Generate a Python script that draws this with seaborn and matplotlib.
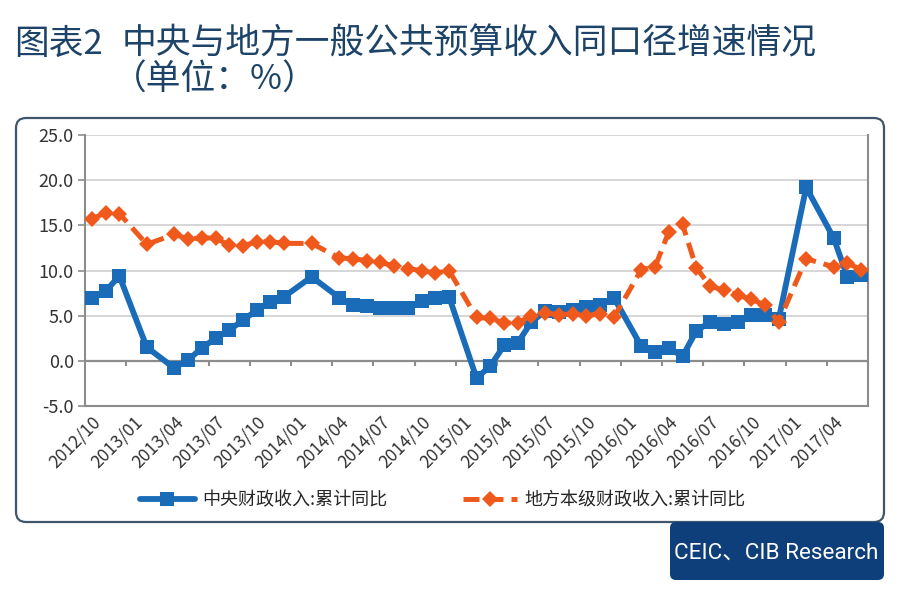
import numpy as np
import pandas as pd
import matplotlib
matplotlib.use("Agg")
import matplotlib.pyplot as plt
import seaborn as sns
from matplotlib.lines import Line2D
from matplotlib.patches import FancyBboxPatch
from matplotlib.transforms import IdentityTransform

# monthly categories 2012/10 .. 2017/06
months = [f"{y}/{m:02d}" for y in range(2012, 2018) for m in range(1, 13)]
months = months[months.index("2012/10"):months.index("2017/06") + 1]

nan = np.nan
central = [7.0, 7.7, 9.4, nan, 1.5, nan, -0.8, 0.1, 1.4, 2.5, 3.4, 4.5, 5.6, 6.5, 7.1,
           nan, 9.3, nan, 7.0, 6.2, 6.1, 5.9, 5.9, 5.9, 6.6, 7.0, 7.1,
           nan, -1.9, -0.6, 1.7, 2.0, 4.3, 5.5, 5.4, 5.6, 6.0, 6.2, 7.0,
           nan, 1.6, 1.0, 1.4, 0.5, 3.3, 4.3, 4.1, 4.3, 5.1, 5.1, 4.6,
           nan, 19.2, nan, 13.6, 9.3, 9.5]
local = [15.7, 16.4, 16.3, nan, 12.9, nan, 14.0, 13.5, 13.6, 13.6, 12.8, 12.7, 13.2, 13.2, 13.0,
         nan, 13.0, nan, 11.4, 11.3, 11.1, 10.9, 10.5, 10.2, 10.0, 9.7, 10.0,
         nan, 4.8, 4.7, 4.2, 4.2, 5.0, 5.3, 5.1, 5.2, 5.0, 5.2, 4.8,
         nan, 10.1, 10.4, 14.3, 15.1, 10.3, 8.3, 7.8, 7.3, 6.8, 6.2, 4.3,
         nan, 11.3, nan, 10.4, 10.8, 10.1]

series_names = ["中央财政收入:累计同比", "地方本级财政收入:累计同比"]
yticks = [-5, 0, 5, 10, 15, 20, 25]

BLUE = "#1a6cb8"
ORANGE = "#ef5a1c"
NAVY = "#1d4468"

sns.set_theme(style="white")
plt.rcParams["font.family"] = ["Noto Sans CJK SC", "DejaVu Sans"]
plt.rcParams["axes.unicode_minus"] = False

df = pd.DataFrame({"idx": np.arange(len(months)), "month": months,
                   "central": central, "local": local})

fig = plt.figure(figsize=(9, 5.91), dpi=100)
W, H = 900, 591
ax = fig.add_axes([85 / W, 1 - 406 / H, 783 / W, 271 / H])

d1 = df.dropna(subset=["central"])
d2 = df.dropna(subset=["local"])
sns.lineplot(data=d1, x="idx", y="central", ax=ax, color=BLUE, linewidth=4.2,
             marker="s", markersize=10.5, markeredgewidth=0, zorder=3)
sns.lineplot(data=d2, x="idx", y="local", ax=ax, color=ORANGE, linewidth=3.6,
             linestyle=(0, (3.2, 1.6)), marker="D", markersize=8,
             markeredgewidth=0, zorder=4)

ax.set_xlim(-0.5, len(months) - 0.5)
ax.set_ylim(-5, 25)
ax.set_yticks(yticks)
ax.set_yticklabels([f"{v:.1f}" for v in yticks], fontsize=13, color="#333333")
ax.set_xticks(df["idx"][::3])
ax.set_xticklabels(df["month"][::3], rotation=45, ha="right",
                   rotation_mode="anchor", fontsize=12.5, color="#333333")
ax.tick_params(axis="x", length=0, pad=5)
ax.tick_params(axis="y", length=5, color="#8c8c8c", width=1.2, left=True, pad=3)
ax.set_xlabel("")
ax.set_ylabel("")
ax.yaxis.grid(True, color="#d3d3d3", linewidth=1.3)
ax.xaxis.grid(False)
for s in ["left", "right", "bottom"]:
    ax.spines[s].set_color("#8c8c8c")
    ax.spines[s].set_linewidth(1.5)
ax.spines["top"].set_visible(False)

# category axis crossing at zero, tick marks between quarters
ax.axhline(0, color="#8c8c8c", linewidth=1.6, zorder=2)
ax.vlines(np.arange(2.5, len(months), 3), -0.6, 0, color="#8c8c8c",
          linewidth=1.5, zorder=2)

handles = [Line2D([], [], color=BLUE, lw=4.2, marker="s", markersize=10.5, markeredgewidth=0),
           Line2D([], [], color=ORANGE, lw=3.6, linestyle=(0, (3.2, 1.6)),
                  marker="D", markersize=8, markeredgewidth=0)]
fig.legend(handles, series_names, loc="center", bbox_to_anchor=(0.492, 1 - 500 / H),
           ncol=2, frameon=False, handlelength=3.0, handletextpad=0.4,
           columnspacing=4.2, prop={"size": 13})

# outer frame and source box
fig.add_artist(FancyBboxPatch((16, H - 522), 868, 404,
                              boxstyle="round,pad=0,rounding_size=10",
                              transform=IdentityTransform(), fill=False,
                              edgecolor="#3f566b", linewidth=1.6))
fig.add_artist(FancyBboxPatch((670, H - 580), 214, 58,
                              boxstyle="round,pad=0,rounding_size=6",
                              transform=IdentityTransform(), facecolor="#0f3f7a",
                              edgecolor="none"))
fig.text(776 / W, 1 - 553 / H, "CEIC、CIB Research", color="white",
         fontsize=16.2, ha="center", va="center",
         family=["Roboto", "Noto Sans CJK SC"])

fig.text(14 / W, 1 - 44 / H, "图表2", fontsize=25, color=NAVY, va="center",
         fontweight="medium")
fig.text(122 / W, 1 - 44 / H, "中央与地方一般公共预算收入同口径增速情况", fontsize=25,
         color=NAVY, va="center", fontweight="medium")
fig.text(112 / W, 1 - 80 / H, "（单位：%）", fontsize=25, color=NAVY, va="center",
         fontweight="medium")

fig.savefig("out.png", dpi=100)
